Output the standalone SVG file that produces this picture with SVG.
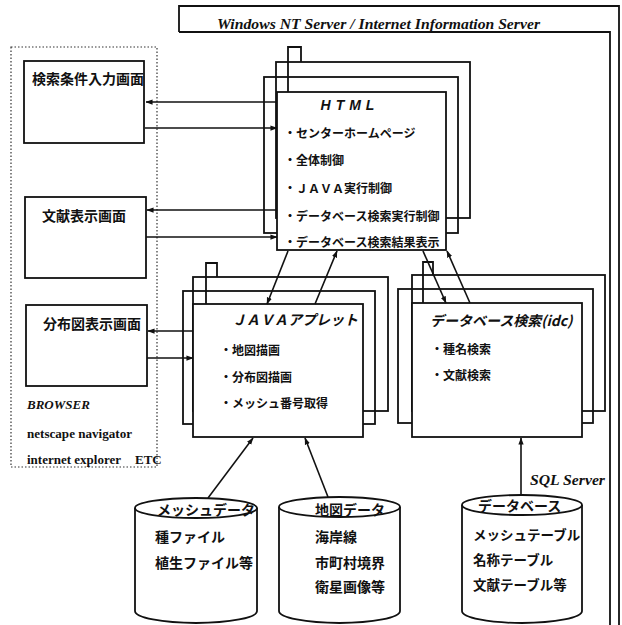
<svg xmlns="http://www.w3.org/2000/svg" width="622" height="625" viewBox="0 0 622 625">
<style>
.ln{stroke:#111;stroke-width:1.6;fill:none}
.bx{stroke:#111;stroke-width:1.8;fill:#fff}
.ol{stroke:#111;stroke-width:1.8;fill:none}
.jp{font-family:"Noto Sans CJK JP","Noto Sans",sans-serif;fill:#111;font-weight:bold}
.t14{font-size:14px}
.t12{font-size:12px}
.sf{font-family:"Liberation Serif",serif;fill:#111;font-weight:bold}
.it{font-style:italic}
</style>
<defs>
<marker id="ah" viewBox="0 0 8 8" refX="7.5" refY="4" markerWidth="7" markerHeight="7" orient="auto" markerUnits="userSpaceOnUse"><path d="M0,1 L8,4 L0,7 Z" fill="#111"/></marker>
</defs>

<g id="server">
<path class="ol" d="M179,32 V6 H619 V625"/>
<path class="ol" d="M179,32 H610 V625"/>
<text class="sf it" x="217" y="29" font-size="15" textLength="323" lengthAdjust="spacingAndGlyphs">Windows NT Server / Internet Information Server</text>
</g>

<g id="browser">
<rect x="11" y="47" width="146" height="420" fill="none" stroke="#333" stroke-width="1.2" stroke-dasharray="1.5 2"/>
<text class="sf it" x="27" y="409" font-size="13">BROWSER</text>
<text class="sf" x="27" y="438" font-size="13" textLength="105" lengthAdjust="spacingAndGlyphs">netscape navigator</text>
<text class="sf" x="27" y="464" font-size="13" textLength="94" lengthAdjust="spacingAndGlyphs">internet explorer</text>
<text class="sf" x="135" y="464" font-size="13">ETC</text>
</g>

<g id="screen-search">
<rect class="bx" x="24" y="61" width="120" height="82"/>
<text class="jp t14" x="32" y="84">検索条件入力画面</text>
</g>
<g id="screen-literature">
<rect class="bx" x="25" y="197" width="121" height="81"/>
<text class="jp t14" x="42" y="221">文献表示画面</text>
</g>
<g id="screen-distribution">
<rect class="bx" x="26" y="305" width="121" height="81"/>
<text class="jp t14" x="43" y="329">分布図表示画面</text>
</g>

<g id="html">
<rect class="ol" x="276" y="62" width="194" height="156"/>
<rect class="ol" x="264" y="77" width="194" height="156"/>
<path class="ol" d="M288,92 V47 H301 V62"/>
<rect class="bx" x="277" y="92" width="169" height="158"/>
<text x="350" y="110" text-anchor="middle" font-family="Liberation Sans,Arial,sans-serif" font-size="14" font-weight="bold" font-style="italic" letter-spacing="5" fill="#111">HTML</text>
<text class="jp t12" x="284" y="138">・センターホームページ</text>
<text class="jp t12" x="284" y="165">・全体制御</text>
<text class="jp t12" x="284" y="193">・ＪＡＶＡ実行制御</text>
<text class="jp t12" x="284" y="221">・データベース検索実行制御</text>
<text class="jp t12" x="284" y="247">・データベース検索結果表示</text>
</g>

<g id="java">
<rect class="ol" x="193" y="277" width="195" height="134"/>
<rect class="ol" x="183" y="291" width="192" height="133"/>
<path class="ol" d="M206,304 V263 H217 V277"/>
<rect class="bx" x="193" y="304" width="170" height="133"/>
<text class="jp t14" x="232" y="325" font-style="italic">ＪＡＶＡアプレット</text>
<text class="jp t12" x="220" y="355">・地図描画</text>
<text class="jp t12" x="220" y="382">・分布図描画</text>
<text class="jp t12" x="220" y="408">・メッシュ番号取得</text>
</g>

<g id="dbsearch">
<rect class="ol" x="412" y="275" width="193" height="136"/>
<rect class="ol" x="398" y="289" width="195" height="134"/>
<path class="ol" d="M423,303 V262 H433 V275"/>
<rect class="bx" x="412" y="303" width="170" height="134"/>
<text class="jp t14" x="430" y="326" font-style="italic">データベース検索(idc)</text>
<text class="jp t12" x="431" y="354">・種名検索</text>
<text class="jp t12" x="431" y="380">・文献検索</text>
</g>

<g id="meshdata">
<path class="bx" d="M135,508 V611 A61,12 0 0 0 257,611 V508"/>
<ellipse class="bx" cx="196" cy="508" rx="61" ry="10"/>
<text class="jp t14" x="157" y="515">メッシュデータ</text>
<text class="jp t14" x="155" y="542">種ファイル</text>
<text class="jp t14" x="155" y="568">植生ファイル等</text>
</g>

<g id="mapdata">
<path class="bx" d="M279,507 V611 A60.5,12 0 0 0 400,611 V507"/>
<ellipse class="bx" cx="339.5" cy="507" rx="60.5" ry="10"/>
<text class="jp t14" x="315" y="515">地図データ</text>
<text class="jp t14" x="315" y="542">海岸線</text>
<text class="jp t14" x="315" y="568">市町村境界</text>
<text class="jp t14" x="315" y="592">衛星画像等</text>
</g>

<g id="database">
<path class="bx" d="M462,505 V611 A60,12 0 0 0 582,611 V505"/>
<ellipse class="bx" cx="522" cy="505" rx="60" ry="10"/>
<text class="jp t14" x="478" y="511">データベース</text>
<text class="jp" font-size="13.5" x="473" y="540">メッシュテーブル</text>
<text class="jp" font-size="13.5" x="473" y="565">名称テーブル</text>
<text class="jp" font-size="13.5" x="473" y="590">文献テーブル等</text>
<text class="sf it" x="530" y="485" font-size="15" textLength="75" lengthAdjust="spacingAndGlyphs">SQL Server</text>
</g>

<g id="connectors">
<path class="ln" d="M277,102 H146" marker-end="url(#ah)"/>
<path class="ln" d="M145,128 H277" marker-end="url(#ah)"/>
<path class="ln" d="M277,210 H147" marker-end="url(#ah)"/>
<path class="ln" d="M146,237 H277" marker-end="url(#ah)"/>
<path class="ln" d="M193,331 H148" marker-end="url(#ah)"/>
<path class="ln" d="M147,358 H193" marker-end="url(#ah)"/>
<path class="ln" d="M288,251 L267,304" marker-end="url(#ah)"/>
<path class="ln" d="M315,304 L337,251" marker-end="url(#ah)"/>
<path class="ln" d="M423,251 L446,303" marker-end="url(#ah)"/>
<path class="ln" d="M470,303 L447,251" marker-end="url(#ah)"/>
<path class="ln" d="M208,498 L253,438" marker-end="url(#ah)"/>
<path class="ln" d="M328,497 L305,438" marker-end="url(#ah)"/>
<path class="ln" d="M521,495 V438" marker-end="url(#ah)"/>
</g>
</svg>
